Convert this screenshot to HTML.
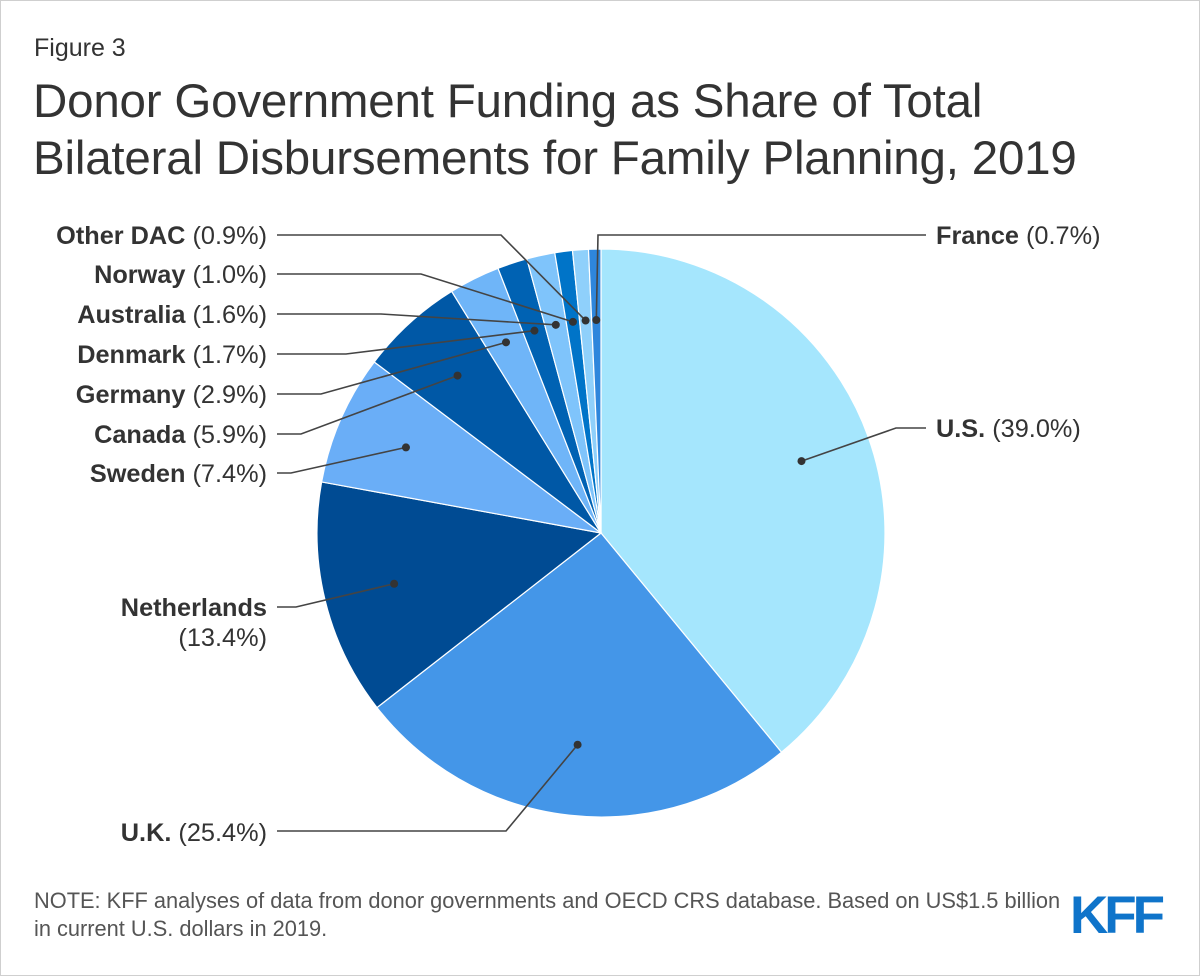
<!DOCTYPE html>
<html><head><meta charset="utf-8"><style>
html,body{margin:0;padding:0;background:#fff}
#wrap{position:relative;width:1198px;height:974px;border:1px solid #cfcfcf;font-family:"Liberation Sans",Arial,sans-serif;color:#333;overflow:hidden}
.fig{position:absolute;left:33px;top:33px;font-size:25px;color:#333}
.title{position:absolute;left:32px;top:72px;font-size:47.5px;line-height:57px;color:#333;letter-spacing:-0.2px}
.note{position:absolute;left:33px;top:886px;font-size:21.8px;line-height:28px;color:#555}
.logo{position:absolute;left:1069px;top:884px;font-size:53px;font-weight:bold;color:#0f74ca;letter-spacing:-4px}
svg{position:absolute;left:0;top:0}
</style></head><body>
<div id="wrap">
<div class="fig">Figure 3</div>
<div class="title">Donor Government Funding as Share of Total<br>Bilateral Disbursements for Family Planning, 2019</div>
<svg id="chart" width="1198" height="974"></svg>
<div class="note">NOTE: KFF analyses of data from donor governments and OECD CRS database. Based on US$1.5 billion<br>in current U.S. dollars in 2019.</div>
<div class="logo">KFF</div>
</div>
<script>
const categories=["U.S.","U.K.","Netherlands","Sweden","Canada","Germany","Denmark","Australia","Norway","Other DAC","France"];
const values=[39.0,25.4,13.4,7.4,5.9,2.9,1.7,1.6,1.0,0.9,0.7];
const valueLabels=["39.0%","25.4%","13.4%","7.4%","5.9%","2.9%","1.7%","1.6%","1.0%","0.9%","0.7%"];
const colors=["#a5e6fd","#4496e8","#004b93","#6aaef7","#0058a6","#6fb5f8","#0062b3","#7fc4fb","#0074c8","#8fd0fb","#2e86dc"];
// label layout: [textX, textY, anchor, elbowX, lineY]
const layout={
"U.S.":[935,436,"start",895,427],
"U.K.":[266,840,"end",505,830],
"Netherlands":[266,615,"end",295,606],
"Sweden":[266,481,"end",290,472],
"Canada":[266,442,"end",300,433],
"Germany":[266,402,"end",320,393],
"Denmark":[266,362,"end",345,353],
"Australia":[266,322,"end",380,313],
"Norway":[266,282,"end",420,273],
"Other DAC":[266,243,"end",500,234],
"France":[935,243,"start",597,234]
};
const svg=document.getElementById('chart');
const NS="http://www.w3.org/2000/svg";
const cx=600,cy=532,R=284;
const total=values.reduce((a,b)=>a+b,0);
function pt(frac,r){const a=frac*2*Math.PI;return [cx+r*Math.sin(a),cy-r*Math.cos(a)];}
let cum=0;
const dots=[];
values.forEach((v,i)=>{
  const s=cum/total,e=(cum+v)/total;cum+=v;
  const p1=pt(s,R),p2=pt(e,R);
  const large=(e-s)>0.5?1:0;
  const path=document.createElementNS(NS,'path');
  path.setAttribute('d',`M${cx},${cy}L${p1[0]},${p1[1]}A${R},${R} 0 ${large} 1 ${p2[0]},${p2[1]}Z`);
  path.setAttribute('fill',colors[i]);
  path.setAttribute('stroke','#fff');
  path.setAttribute('stroke-width','1.2');
  
  
  svg.appendChild(path);
  dots.push(pt((s+e)/2,R*0.75));
});
categories.forEach((c,i)=>{
  const L=layout[c];const d=dots[i];
  const startX=L[2]==="end"?276:925;
  const line=document.createElementNS(NS,'polyline');
  line.setAttribute('points',`${startX},${L[4]} ${L[3]},${L[4]} ${d[0]},${d[1]}`);
  line.setAttribute('fill','none');line.setAttribute('stroke','#444');line.setAttribute('stroke-width','1.6');
  
  
  svg.appendChild(line);
  const dot=document.createElementNS(NS,'circle');
  dot.setAttribute('cx',d[0]);dot.setAttribute('cy',d[1]);dot.setAttribute('r','4');dot.setAttribute('fill','#333');
  
  
  svg.appendChild(dot);
  const t=document.createElementNS(NS,'text');
  t.setAttribute('x',L[0]);t.setAttribute('y',L[1]);t.setAttribute('text-anchor',L[2]);
  t.setAttribute('font-size','25.3');t.setAttribute('fill','#333');
  t.setAttribute('font-family','"Liberation Sans",Arial,sans-serif');
  
  
  if(c==="Netherlands"){
    t.innerHTML=`<tspan font-weight="bold">${c}</tspan><tspan x="${L[0]}" dy="30">(${valueLabels[i]})</tspan>`;
  } else {
    t.innerHTML=`<tspan font-weight="bold">${c}</tspan> (${valueLabels[i]})`;
  }
  svg.appendChild(t);
});
</script>
</body></html>
